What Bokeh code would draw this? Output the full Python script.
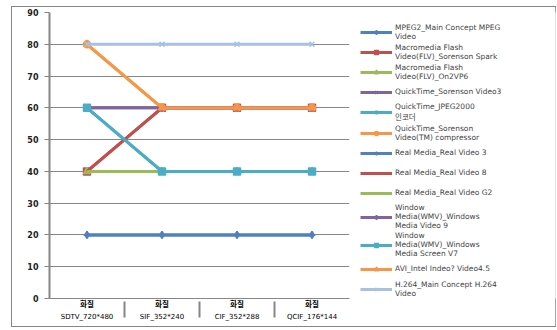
from bokeh.plotting import figure
from bokeh.layouts import row
from bokeh.models import FactorRange, Range1d, FixedTicker, Legend, LegendItem
from bokeh.embed import file_html
from bokeh.resources import INLINE

# ---- data ----
resolutions = ["SDTV_720*480", "SIF_352*240", "CIF_352*288", "QCIF_176*144"]
quality = "화질"
series_names = [
    "MPEG2_Main Concept MPEG\nVideo",
    "Macromedia Flash\nVideo(FLV)_Sorenson Spark",
    "Macromedia Flash\nVideo(FLV)_On2VP6",
    "QuickTime_Sorenson Video3",
    "QuickTime_JPEG2000\n인코더",
    "QuickTime_Sorenson\nVideo(TM) compressor",
    "Real Media_Real Video 3",
    "Real Media_Real Video 8",
    "Real Media_Real Video G2",
    "Window\nMedia(WMV)_Windows\nMedia Video 9",
    "Window\nMedia(WMV)_Windows\nMedia Screen V7",
    "AVI_Intel Indeo? Video4.5",
    "H.264_Main Concept H.264\nVideo",
]
mpeg2 = [20, 20, 20, 20]
flv_sorenson = [40, 60, 60, 60]
flv_on2 = [40, 40, 40, 40]
qt_sorenson3 = [60, 60, 60, 60]
qt_jpeg2000 = [60, 40, 40, 40]
qt_sorenson_tm = [80, 60, 60, 60]
real3 = [20, 20, 20, 20]
real8 = [40, 60, 60, 60]
real_g2 = [40, 40, 40, 40]
wmv9 = [60, 60, 60, 60]
wmv_screen = [60, 40, 40, 40]
avi_indeo = [80, 60, 60, 60]
h264 = [80, 80, 80, 80]
series_values = [mpeg2, flv_sorenson, flv_on2, qt_sorenson3, qt_jpeg2000,
                 qt_sorenson_tm, real3, real8, real_g2, wmv9, wmv_screen,
                 avi_indeo, h264]
y_ticks = [0, 10, 20, 30, 40, 50, 60, 70, 80, 90]

# ---- styles ----
colors = ["#4F81BD", "#C0504D", "#9BBB59", "#8064A2", "#4BACC6", "#F79646",
          "#4F81BD", "#C0504D", "#9BBB59", "#8064A2", "#4BACC6", "#F79646",
          "#A9C1E0"]
markers = ["diamond", "square", "triangle", "x", "asterisk", "circle",
           "cross", None, None, "diamond", "square", "triangle", "x"]

factors = [(r, quality) for r in resolutions]
FONT = "DejaVu Sans, Noto Sans CJK KR"
GREY = "#868686"

p = figure(width=338, height=319, output_backend="svg", toolbar_location=None,
           title=None,
           x_range=FactorRange(*factors, factor_padding=0, group_padding=0,
                               range_padding=0),
           y_range=Range1d(0, 90),
           min_border_left=37, min_border_right=1, min_border_top=5,
           min_border_bottom=28)
p.outline_line_color = None
p.background_fill_color = "white"
p.border_fill_color = "white"

# axes
p.yaxis.ticker = FixedTicker(ticks=y_ticks)
p.yaxis.axis_line_color = GREY
p.yaxis.axis_line_width = 2
p.yaxis.major_tick_line_color = GREY
p.yaxis.major_tick_out = 5
p.yaxis.major_tick_in = 0
p.yaxis.minor_tick_line_color = None
p.yaxis.major_label_text_font_size = "8px"
p.yaxis.major_label_text_font = FONT
p.yaxis.major_label_text_font_style = "bold"
p.yaxis.major_label_text_color = "#222222"
p.yaxis.major_label_standoff = 6

p.xaxis.axis_line_color = GREY
p.xaxis.major_tick_line_color = None
p.xaxis.major_tick_out = 0
p.xaxis.major_tick_in = 0
p.xaxis.minor_tick_line_color = None
p.xaxis.minor_tick_out = 0
p.xaxis.major_label_text_font_size = "7.5px"
p.xaxis.major_label_text_font = FONT
p.xaxis.major_label_text_font_style = "bold"
p.xaxis.major_label_text_color = "black"
p.xaxis.major_label_standoff = 1
p.xaxis.group_text_font_size = "7px"
p.xaxis.group_text_font = FONT
p.xaxis.group_text_font_style = "normal"
p.xaxis.group_text_color = "black"
p.xaxis.separator_line_color = GREY
p.xaxis.separator_line_width = 2

p.xgrid.grid_line_color = None
p.ygrid.grid_line_color = GREY
p.ygrid.grid_line_width = 1

# legend panel (separate figure; its copies of the series lie outside its range)
lp = figure(width=205, height=319, output_backend="svg", toolbar_location=None,
            title=None, x_axis_location=None, y_axis_location=None,
            x_range=FactorRange(*factors), y_range=Range1d(1000, 1001),
            min_border=0, min_border_left=0, min_border_right=0,
            min_border_top=0, min_border_bottom=0)
lp.outline_line_color = None
lp.xgrid.grid_line_color = None
lp.ygrid.grid_line_color = None
lp.border_fill_color = "white"
lp.background_fill_color = "white"

items = []
for name, vals, c, m in zip(series_names, series_values, colors, markers):
    p.line(x=factors, y=vals, line_color=c, line_width=3)
    rs = [lp.line(x=factors, y=vals, line_color=c, line_width=3)]
    if m is not None:
        p.scatter(x=factors, y=vals, marker=m, size=7,
                  fill_color=c, line_color=c, line_width=1.5)
        rs.append(lp.scatter(x=factors, y=vals, marker=m, size=7,
                             fill_color=c, line_color=c, line_width=1.5))
    items.append(LegendItem(label=name, renderers=rs))

legend = Legend(items=items, location="top_left", ncols=1, glyph_width=32,
                glyph_height=10, label_height=19, label_standoff=3,
                spacing=1, padding=0, margin=10,
                label_text_font_size="7.5px", label_text_font=FONT,
                label_text_line_height=1.0, border_line_color=None,
                background_fill_alpha=0)
lp.add_layout(legend, "left")

layout = row(p, lp, spacing=0)
layout.styles = {"margin-left": "11px", "margin-top": "6px",
                 "border": "1px solid #868686"}

open("out.html", "w").write(file_html(layout, INLINE))
